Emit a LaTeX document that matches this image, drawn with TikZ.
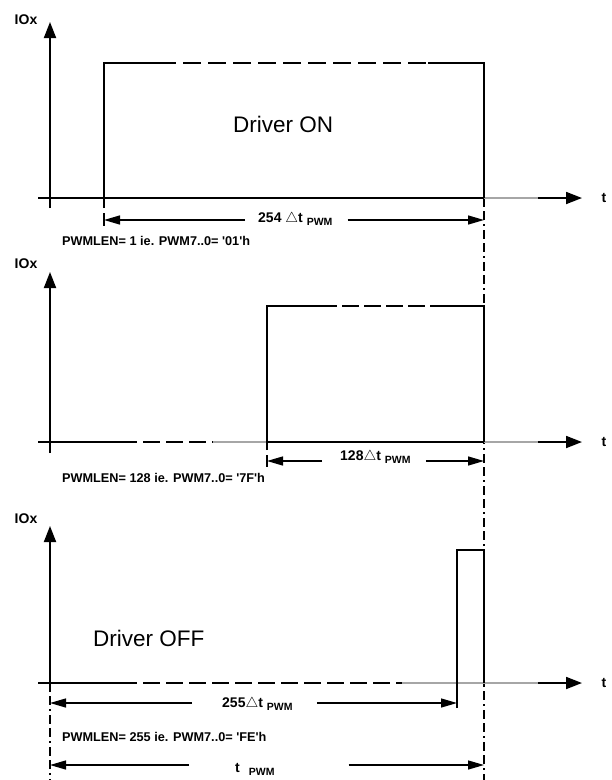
\documentclass[tikz,border=0pt]{standalone}
\usepackage{fontspec}
\setmainfont{Liberation Sans}
\usetikzlibrary{arrows.meta, positioning, calc}

% subscript of the time labels
\newcommand{\pwmsub}{\raisebox{-3.5pt}{\fontsize{10.5}{11}\selectfont PWM}}

\begin{document}
\begin{tikzpicture}[x=1pt, y=-1pt,
    axis/.style={line width=1.8pt, -{Triangle[length=16pt, width=12pt]}},
    sig/.style={line width=1.9pt},
    trace/.style={line width=1.7pt, gray!70},
    hidden/.style={line width=1.9pt, dash pattern=on 17pt off 6pt},
    dimline/.style={line width=1.4pt, -{Triangle[length=16pt, width=9pt]}},
    cutline/.style={line width=1.4pt, dash pattern=on 9pt off 4pt on 9pt off 4pt on 2pt off 4pt},
    lbl/.style={font=\bfseries\fontsize{12.7}{15}\selectfont, inner sep=0pt},
    dimlbl/.style={font=\bfseries\fontsize{14}{16}\selectfont, inner sep=0pt},
    big/.style={font=\fontsize{22.5}{26}\selectfont, inner sep=0pt}]
    \useasboundingbox (0,0) rectangle (612,780);

    % Cut lines through all three plots
    \draw[cutline] (484,198) -- (484,780);
    \draw[cutline] (50,683) -- (50,780);

    % ---------- Plot 1: PWMLEN = 1 ----------
    \node[dimlbl] (io1) at (26,20) {IOx};
    \draw[axis] (50,208) -- (50,22);
    \draw[sig] (38,198) -- (484,198);
    \draw[trace] (484,198) -- (538,198);
    \draw[axis] (538,198) -- (582,198);
    \node[dimlbl] (t1) at (604,198) {t};
    % Signal
    \draw[sig] (104,208) -- (104,63) -- (158,63);
    \draw[sig, dash pattern=on 18pt off 7pt] (158,63) -- (428,63);
    \draw[sig] (428,63) -- (484,63) -- (484,198);
    \node[big, anchor=base west] (on) at (233,132) {Driver ON};
    % Duration
    \coordinate (a1) at (104,220);
    \coordinate (b1) at (484,220);
    \node[dimlbl, anchor=base west] (d1) at (258,222) {254 $\triangle$t \pwmsub};
    \draw[dimline, shorten <=13pt] (d1.west |- a1) -- (a1);
    \draw[dimline, shorten <=15pt] (d1.east |- b1) -- (b1);
    \draw[line width=1.4pt] (104,213) -- (104,226);
    \node[lbl, anchor=base west] (len1) at (62,245) {PWMLEN= 1 ie. PWM7..0= \textquotesingle 01\textquotesingle h};

    % ---------- Plot 2: PWMLEN = 128 ----------
    \node[dimlbl] (io2) at (26,264) {IOx};
    \draw[axis] (50,453) -- (50,272);
    \draw[sig] (38,442) -- (120,442);
    \draw[hidden] (120,442) -- (213,442);
    \draw[trace] (213,442) -- (267,442);
    \draw[sig] (267,442) -- (484,442);
    \draw[trace] (484,442) -- (538,442);
    \draw[axis] (538,442) -- (582,442);
    \node[dimlbl] (t2) at (604,442) {t};
    % Signal
    \draw[sig] (267,450) -- (267,306) -- (320,306);
    \draw[sig, dash pattern=on 17pt off 5pt] (320,306) -- (430,306);
    \draw[sig] (430,306) -- (484,306) -- (484,442);
    % Duration
    \coordinate (a2) at (267,461);
    \coordinate (b2) at (484,461);
    \node[dimlbl, anchor=base west] (d2) at (340,460) {128$\triangle$t \pwmsub};
    \draw[dimline, shorten <=18pt] (d2.west |- a2) -- (a2);
    \draw[dimline, shorten <=15pt] (d2.east |- b2) -- (b2);
    \draw[line width=1.4pt] (267,455) -- (267,467);
    \node[lbl, anchor=base west] (len2) at (62,482) {PWMLEN= 128 ie. PWM7..0= \textquotesingle 7F\textquotesingle h};

    % ---------- Plot 3: PWMLEN = 255 ----------
    \node[dimlbl] (io3) at (26,519) {IOx};
    \draw[axis] (50,688) -- (50,526);
    \draw[sig] (38,683) -- (120,683);
    \draw[hidden] (120,683) -- (402,683);
    \draw[trace] (402,683) -- (538,683);
    \draw[axis] (538,683) -- (582,683);
    \node[dimlbl] (t3) at (604,683) {t};
    % Signal
    \draw[sig] (457,708) -- (457,550) -- (484,550) -- (484,683);
    \node[big, anchor=base west] (off) at (93,646) {Driver OFF};
    % Durations
    \coordinate (a3) at (50,703);
    \coordinate (b3) at (457,703);
    \node[dimlbl, anchor=base west] (d3) at (222,707) {255$\triangle$t \pwmsub};
    \draw[dimline, shorten <=30pt] (d3.west |- a3) -- (a3);
    \draw[dimline, shorten <=24pt] (d3.east |- b3) -- (b3);
    \node[lbl, anchor=base west] (len3) at (62,741) {PWMLEN= 255 ie. PWM7..0= \textquotesingle FE\textquotesingle h};
    \coordinate (a4) at (50,765);
    \coordinate (b4) at (484,765);
    \node[dimlbl, anchor=base west] (d4) at (235,772) {t\hspace{9pt}\pwmsub};
    \draw[dimline, shorten <=46pt] (d4.west |- a4) -- (a4);
    \draw[dimline, shorten <=74pt] (d4.east |- b4) -- (b4);
\end{tikzpicture}
\end{document}
